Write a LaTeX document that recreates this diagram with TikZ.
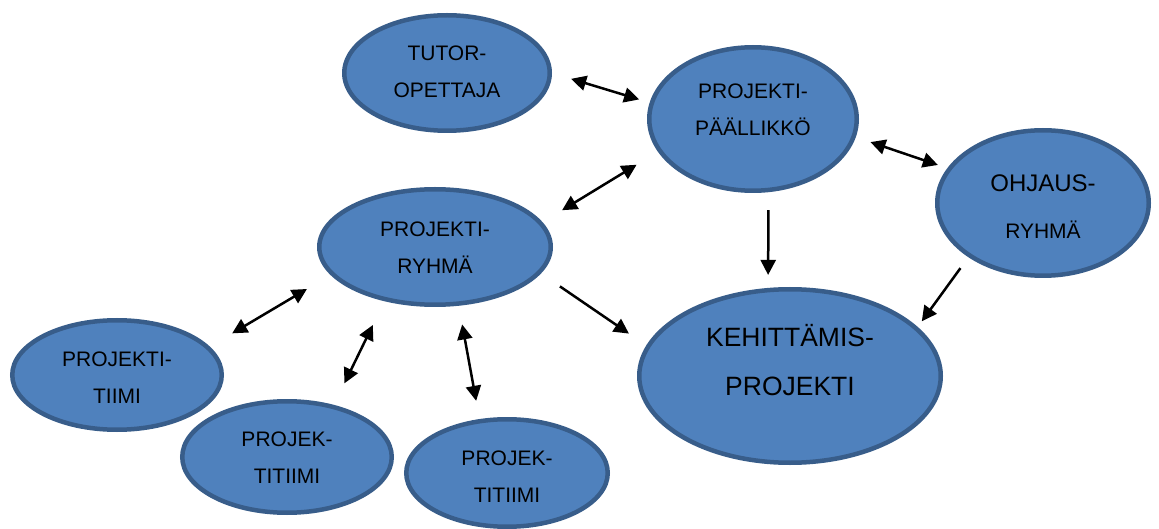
\documentclass[tikz,border=0pt]{standalone}
\usepackage{fontspec}
\setmainfont{Liberation Sans}
\usetikzlibrary{shapes.geometric,arrows.meta}
\definecolor{blobfill}{HTML}{4F81BD}
\definecolor{blobline}{HTML}{385D8A}
\tikzset{
	blob/.style={
		ellipse, draw=blobline, fill=blobfill, line width=4.5pt, inner sep=0pt,
	},
	blobtext/.style={align=center, font={\fontsize{21}{37}\selectfont}},
	bigtext/.style={align=center, font={\fontsize{26.5}{49}\selectfont}},
	link/.style={line width=2.5pt},
	>={Triangle[length=15pt,width=15pt]},
}

\begin{document}
\begin{tikzpicture}[x=1pt, y=-1pt]
\useasboundingbox (0,0) rectangle (1159,529);
\node [blob, minimum width=205.5pt, minimum height=115.5pt,
	label={[blobtext, yshift=1.5pt]center:{TUTOR-\\OPETTAJA}}] (tutor) at (447,73) {};
\node [blob, minimum width=207.5pt, minimum height=143.5pt,
	label={[blobtext, yshift=9pt]center:{PROJEKTI-\\PÄÄLLIKKÖ}}] (pm) at (753,119) {};
\node [blob, minimum width=211.5pt, minimum height=145.5pt,
	label={[blobtext, yshift=-3.5pt]center:{{\fontsize{24}{47}\selectfont OHJAUS-}\\[10pt]RYHMÄ}}] (ohjaus) at (1043,203) {};
\node [blob, minimum width=231.5pt, minimum height=115.5pt,
	label={[blobtext, yshift=-1pt]center:{PROJEKTI-\\RYHMÄ}}] (ryhma) at (435,247) {};
\node [blob, minimum width=301.5pt, minimum height=173.5pt,
	label={[bigtext, yshift=16pt]center:{KEHITTÄMIS-\\PROJEKTI}}] (kehitys) at (790,376) {};
% tiimit
\node [blob, minimum width=209.5pt, minimum height=109.5pt,
	label={[blobtext, yshift=-3pt]center:{PROJEKTI-\\TIIMI}}] (tiimiA) at (117,375) {};
\node [blob, minimum width=209.5pt, minimum height=111.5pt,
	label={[blobtext, yshift=-1pt]center:{PROJEK-\\TITIIMI}}] (tiimiB) at (287,457) {};
\node [blob, minimum width=201.5pt, minimum height=107.5pt,
	label={[blobtext, yshift=-3.5pt]center:{PROJEK-\\TITIIMI}}] (tiimiC) at (507,473) {};

\draw [link, <->, shorten <=20pt, shorten >=11pt] (tutor.0) -- (pm.171.5);
\draw [link, <->, shorten <=15.5pt, shorten >=10pt] (pm.-10.5) -- (ohjaus.160.7);
\draw [link, <->, shorten <=25pt, shorten >=23pt] (pm.199.4) -- (ryhma.13.2);
\draw [link, ->, shorten <=18pt, shorten >=13pt] (pm.-78.4) -- (kehitys.104);
\draw [link, ->, shorten <=13.5pt, shorten >=7pt] (ohjaus.216) -- (kehitys.21.9);
\draw [link, ->, shorten <=23pt, shorten >=21pt] (ryhma.-14.9) -- (kehitys.168.6);
\draw [link, <->, shorten <=27.5pt, shorten >=26pt] (ryhma.195.9) -- (tiimiA.17.5);
\draw [link, <->, shorten <=26.5pt, shorten >=24pt] (ryhma.227.3) -- (tiimiB.48.6);
\draw [link, <->, shorten <=19pt, shorten >=18.5pt] (ryhma.-68.2) -- (tiimiC.117.3);
\end{tikzpicture}
\end{document}
